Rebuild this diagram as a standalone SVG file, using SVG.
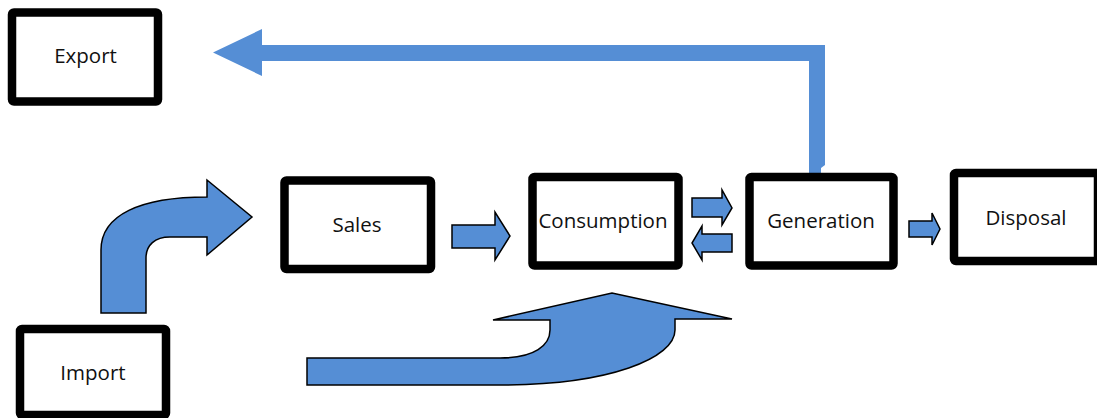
<svg xmlns="http://www.w3.org/2000/svg" width="1097" height="418" viewBox="0 0 1097 418">
<style>
.box{fill:#ffffff;stroke:#000000;stroke-width:8.5;stroke-linejoin:round}
.lbl{font-family:"Open Sans","Noto Sans","Liberation Sans",sans-serif;font-size:20.5px;fill:#111111;text-anchor:middle}
.arr{fill:#558ED5;stroke:#000000;stroke-width:1.5;stroke-linejoin:miter}
.arrn{fill:#558ED5;stroke:none}
</style>
<rect width="1097" height="418" fill="#ffffff"/>
<g id="connectors">
<path class="arrn" d="M213,52.5 L262,29 L262,45 L825,45 L825,165 L821,168 L821,176 L809,176 L809,61 L262,61 L262,76 Z"/>
<path class="arr" d="M101,313 L101,250 C101,215 140,197 207,197 L207,180 L252,217 L207,255 L207,237 L170,237 C155,237 146,245 146,258 L146,313 Z"/>
<path class="arr" d="M307,358 L500,358 C535,358 550,345 550,330 L550,320 L493,320 L612,293 L732,319 L675,319 L675,330 C675,358 610,385 500,385 L307,385 Z"/>
<path class="arr" d="M452,225 L495,225 L495,212 L510,236 L495,260 L495,248 L452,248 Z"/>
<path class="arr" d="M692,198 L722,198 L722,190 L732,208 L722,225 L722,217 L692,217 Z"/>
<path class="arr" d="M732,234 L702,234 L702,226 L692,243 L702,260 L702,252 L732,252 Z"/>
<path class="arr" d="M909,221 L932,221 L932,213 L940,229 L932,245 L932,237 L909,237 Z"/>
</g>
<g id="export">
<rect class="box" x="12" y="12.5" width="146" height="89" rx="2"/>
<text class="lbl" x="85.5" y="62.5">Export</text>
</g>
<g id="import">
<rect class="box" x="20" y="329" width="146" height="86" rx="2"/>
<text class="lbl" x="93" y="380">Import</text>
</g>
<g id="sales">
<rect class="box" x="284.5" y="180.5" width="146.5" height="88.5" rx="2"/>
<text class="lbl" x="357" y="231.5">Sales</text>
</g>
<g id="consumption">
<rect class="box" x="532.5" y="177" width="146" height="88.5" rx="2"/>
<text class="lbl" x="603" y="228">Consumption</text>
</g>
<g id="generation">
<rect class="box" x="749.5" y="177" width="144" height="88.5" rx="2"/>
<text class="lbl" x="821" y="228">Generation</text>
</g>
<g id="disposal">
<rect class="box" x="954" y="173" width="144" height="88" rx="2"/>
<text class="lbl" x="1026" y="225">Disposal</text>
</g>
</svg>
